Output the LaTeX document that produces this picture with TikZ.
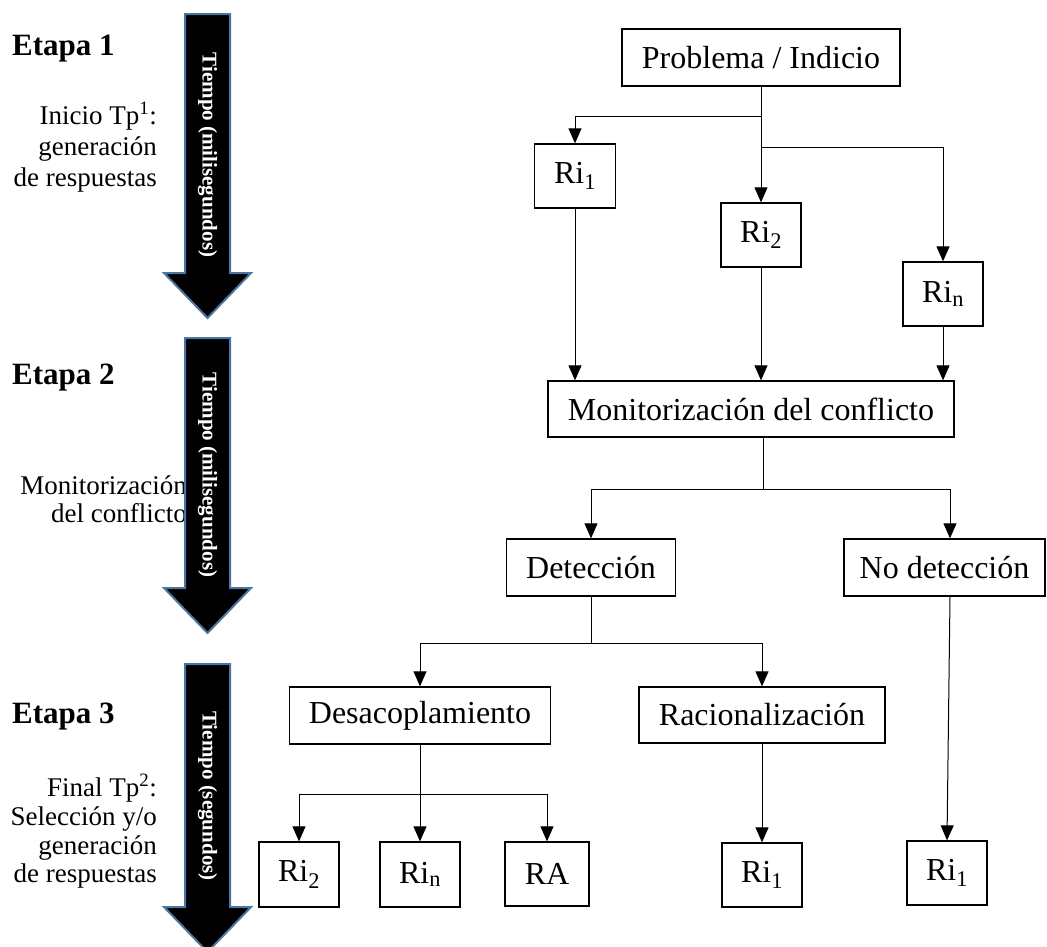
\documentclass[tikz,border=0pt]{standalone}
\usepackage{fontspec}
\setmainfont{Liberation Serif}
\usetikzlibrary{arrows.meta}
\definecolor{arrowedge}{RGB}{74,118,163}
\begin{document}
\begin{tikzpicture}[x=1pt,y=-1pt,
  box/.style={draw, line width=1.3pt, inner sep=0pt, font=\fontsize{32}{38}\selectfont},
  conn/.style={line width=1pt},
  arr/.style={line width=1pt, -{Triangle[width=13pt,length=15pt]}},
  timearrow/.style={fill=black, draw=arrowedge, line width=2pt, line join=miter},
  timetext/.style={text=white, font=\bfseries\fontsize{21}{24}\selectfont, rotate=-90, inner sep=0pt},
  stage/.style={font=\bfseries\fontsize{31}{36}\selectfont, anchor=base west, inner sep=0pt},
  side/.style={font=\fontsize{27}{33}\selectfont, anchor=base east, inner sep=0pt}
]
\useasboundingbox (0,0) rectangle (1047,946);
\clip (0,0) rectangle (1047,946);

% stage labels
\node[stage] (e1) at (12,55) {Etapa 1};
\node[stage] (e2) at (12,384) {Etapa 2};
\node[stage] (e3) at (12,723) {Etapa 3};

\node[side] (s1a) at (157,124) {Inicio Tp\textsuperscript{1}:};
\node[side] (s1b) at (157,155) {generación};
\node[side] (s1c) at (157,186) {de respuestas};

\node[side] (s2a) at (187,494) {Monitorización};
\node[side] (s2b) at (187,522) {del conflicto};

\node[side] (s3a) at (157,796) {Final Tp\textsuperscript{2}:};
\node[side] (s3b) at (157,825) {Selección y/o};
\node[side] (s3c) at (157,854) {generación};
\node[side] (s3d) at (157,882) {de respuestas};

% time arrows
\draw[timearrow] (185,14) -- (230,14) -- (230,273) -- (251,273) -- (207.5,318) -- (164,273) -- (185,273) -- cycle;
\draw[timearrow] (185,338) -- (230,338) -- (230,588) -- (251,588) -- (207.5,633) -- (164,588) -- (185,588) -- cycle;
\draw[timearrow] (185,664) -- (230,664) -- (230,907) -- (251,907) -- (207.5,952) -- (164,907) -- (185,907) -- cycle;
\node[timetext] (t1) at (207.5,155) {Tiempo (milisegundos)};
\node[timetext] (t2) at (207.5,475) {Tiempo (milisegundos)};
\node[timetext] (t3) at (207.5,796) {Tiempo (segundos)};

% boxes
\node[box, minimum width=278pt, minimum height=57pt] (P) at (761,57.5) {Problema / Indicio};
\node[box, minimum width=81pt, minimum height=64pt] (Ri1a) at (575,176) {Ri\textsubscript{1}};
\node[box, minimum width=80pt, minimum height=64pt] (Ri2a) at (761,235) {Ri\textsubscript{2}};
\node[box, minimum width=80pt, minimum height=64pt] (Rina) at (943,294) {Ri\textsubscript{n}};
\node[box, minimum width=406pt, minimum height=56pt] (Mon) at (751,409) {Monitorización del conflicto};
\node[box, minimum width=169pt, minimum height=57pt] (Det) at (591,567.5) {Detección};
\node[box, minimum width=201pt, minimum height=57pt] (NoDet) at (944.5,567.5) {No detección};
\node[box, minimum width=261pt, minimum height=57pt] (Des) at (420,715.5) {Desacoplamiento};
\node[box, minimum width=246pt, minimum height=56pt] (Rac) at (762,715) {Racionalización};
\node[box, minimum width=80pt, minimum height=65pt] (Ri2b) at (299,874.5) {Ri\textsubscript{2}};
\node[box, minimum width=80pt, minimum height=65pt] (Rinb) at (420,874.5) {Ri\textsubscript{n}};
\node[box, minimum width=84pt, minimum height=64pt] (RA) at (547,874) {RA};
\node[box, minimum width=80pt, minimum height=64pt] (Ri1b) at (762,875) {Ri\textsubscript{1}};
\node[box, minimum width=80pt, minimum height=64pt] (Ri1c) at (947,873) {Ri\textsubscript{1}};

% junctions
\coordinate (j1) at (761,116);
\coordinate (j2) at (761,147);
\coordinate (j3) at (763,489);
\coordinate (j4) at (950,489);
\coordinate (j5) at (591,643);
\coordinate (j6) at (420,794);

% connectors
\draw[arr] (P.south) -- (Ri2a.north);
\draw[arr] (j1) -| (Ri1a.north);
\draw[arr] (j2) -| (Rina.north);
\draw[arr] (Ri1a.south) -- (Ri1a.south |- Mon.north);
\draw[arr] (Ri2a.south) -- (Ri2a.south |- Mon.north);
\draw[arr] (Rina.south) -- (Rina.south |- Mon.north);
\draw[conn] (j3 |- Mon.south) -- (j3);
\draw[arr] (j3) -| (Det.north);
\draw[arr] (j3) -- (j4) -- (j4 |- NoDet.north);
\draw[conn] (Det.south) -- (j5);
\draw[arr] (j5) -| (Des.north);
\draw[arr] (j5) -| (Rac.north);
\draw[arr] (j4 |- NoDet.south) -- (Ri1c.north);
\draw[arr] (Des.south) -- (Rinb.north);
\draw[arr] (j6) -| (Ri2b.north);
\draw[arr] (j6) -| (RA.north);
\draw[arr] (Rac.south) -- (Ri1b.north);
\end{tikzpicture}
\end{document}
